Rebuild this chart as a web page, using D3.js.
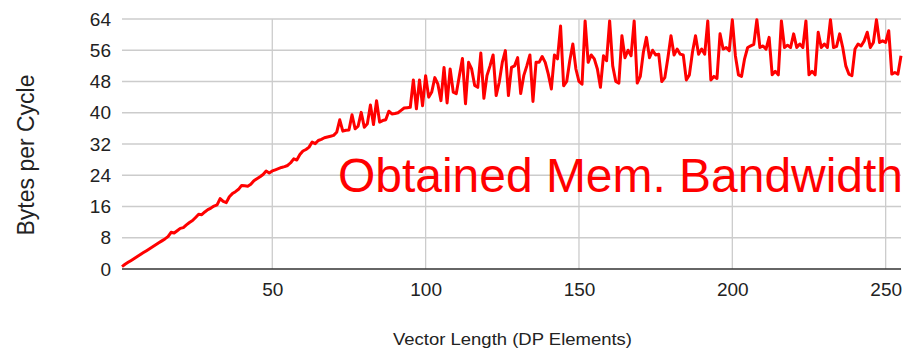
<!DOCTYPE html>
<html>
<head>
<meta charset="utf-8">
<script src="https://cdn.jsdelivr.net/npm/d3@7"></script>
<style>
  html, body { margin: 0; padding: 0; background: #fff; }
  svg { display: block; }
</style>
</head>
<body>
<svg id="chart" width="904" height="349"></svg>
<script>
// ---- data ----
const bandwidth = [
  0.6, 1.2, 1.7, 2.2, 2.7, 3.2, 3.7, 4.2, 4.7, 5.2,
  5.7, 6.2, 6.7, 7.2, 7.7, 8.3, 9.4, 9.2, 9.8, 10.4,
  10.6, 11.3, 11.9, 12.4, 13.2, 14.0, 13.9, 14.6, 15.2, 15.6,
  16.1, 16.4, 18.0, 17.3, 17.0, 18.5, 19.3, 19.8, 20.4, 21.4,
  21.3, 21.2, 21.7, 22.6, 23.1, 23.6, 24.2, 25.1, 24.6, 25.1,
  25.4, 25.7, 26.0, 26.2, 26.5, 27.2, 28.2, 27.9, 29.3, 30.2,
  30.6, 31.2, 32.5, 32.1, 32.9, 33.2, 33.6, 33.8, 34.0, 34.2,
  35.0, 38.2, 35.3, 35.5, 35.6, 39.5, 35.9, 36.6, 40.1, 36.3,
  37.2, 42.0, 37.0, 43.1, 37.6, 38.0, 38.2, 40.4, 39.7, 39.8,
  40.0, 40.6, 41.2, 41.3, 41.4, 48.4, 41.0, 48.4, 41.8, 49.5,
  44.0, 45.3, 49.0, 47.3, 43.1, 51.6, 42.5, 51.2, 45.3, 44.9,
  49.5, 53.9, 42.3, 52.9, 51.2, 47.0, 46.5, 55.3, 43.7, 49.5,
  52.0, 54.8, 44.4, 47.8, 52.9, 55.9, 44.4, 51.6, 52.0, 54.1,
  44.9, 49.5, 52.0, 54.8, 42.9, 52.9, 52.9, 54.4, 52.9, 49.9,
  46.1, 54.8, 53.8, 62.2, 46.9, 48.0, 53.3, 57.6, 51.2, 48.0,
  47.3, 63.5, 52.9, 54.8, 53.8, 51.2, 46.5, 54.6, 53.3, 63.5,
  52.0, 48.0, 47.6, 59.7, 54.1, 56.0, 54.6, 63.5, 47.6, 49.3,
  55.5, 59.3, 54.1, 56.0, 54.8, 55.0, 48.0, 49.0, 54.1, 59.7,
  54.8, 56.3, 55.0, 54.8, 48.4, 49.7, 55.5, 59.7, 55.0, 56.3,
  55.0, 63.5, 48.4, 49.3, 48.8, 60.2, 56.3, 56.7, 55.9, 63.8,
  54.6, 49.7, 49.3, 53.8, 56.7, 57.1, 57.5, 63.8, 56.7, 57.1,
  56.3, 59.3, 49.7, 50.6, 49.7, 63.5, 56.7, 57.3, 56.7, 60.2,
  56.7, 57.6, 56.7, 63.5, 49.7, 50.6, 49.7, 60.6, 56.7, 57.6,
  56.7, 63.8, 56.7, 57.0, 60.2, 56.7, 52.0, 49.9, 49.5, 56.3,
  57.6, 57.1, 58.4, 60.6, 56.7, 58.0, 63.8, 58.0, 58.4, 58.0,
  61.0, 49.9, 50.3, 49.9, 54.6
];
const vectorLength = bandwidth.map((_, i) => i + 1);
const yTicks = [0, 8, 16, 24, 32, 40, 48, 56, 64];
const xTicks = [50, 100, 150, 200, 250];
const xTitle = "Vector Length (DP Elements)";
const yTitle = "Bytes per Cycle";
const annotation = "Obtained Mem. Bandwidth";

// ---- layout ----
const svg = d3.select("#chart");
const plotL = 122, plotR = 901, plotT = 19, plotB = 269;
const font = "'Liberation Sans', Arial, sans-serif";

const x = d3.scaleLinear().domain([1, 255]).range([plotL, plotR]);
const y = d3.scaleLinear().domain([0, 64]).range([plotB, plotT]);

// horizontal grid
svg.append("g")
  .selectAll("line")
  .data(yTicks.filter(d => d !== 0))
  .join("line")
  .attr("x1", plotL).attr("x2", plotR)
  .attr("y1", d => y(d)).attr("y2", d => y(d))
  .attr("stroke", "#cccccc").attr("stroke-width", 1.3);

// vertical grid
svg.append("g")
  .selectAll("line")
  .data(xTicks)
  .join("line")
  .attr("x1", d => x(d)).attr("x2", d => x(d))
  .attr("y1", plotT).attr("y2", plotB)
  .attr("stroke", "#cccccc").attr("stroke-width", 1.3);

// y axis labels
const yAxis = d3.axisLeft(y).tickValues(yTicks).tickSize(0).tickPadding(11).tickFormat(d3.format("d"));
const gy = svg.append("g").attr("transform", `translate(${plotL},0)`).call(yAxis);
gy.select(".domain").remove();
gy.selectAll("text").attr("font-family", font).attr("font-size", 19).attr("fill", "#222");

// x axis labels
const xAxis = d3.axisBottom(x).tickValues(xTicks).tickSize(0).tickPadding(14).tickFormat(d3.format("d"));
const gx = svg.append("g").attr("transform", `translate(0,${plotB})`).call(xAxis);
gx.select(".domain").remove();
gx.selectAll("text").attr("font-family", font).attr("font-size", 19).attr("fill", "#222");

// baseline
svg.append("line")
  .attr("x1", plotL).attr("x2", plotR)
  .attr("y1", y(0)).attr("y2", y(0))
  .attr("stroke", "#333").attr("stroke-width", 1.5);

// line
const line = d3.line().x((d, i) => x(vectorLength[i])).y(d => y(d));
svg.append("path")
  .datum(bandwidth)
  .attr("d", line)
  .attr("fill", "none")
  .attr("stroke", "#ff0000")
  .attr("stroke-width", 3)
  .attr("stroke-linejoin", "round");

// titles
svg.append("text")
  .attr("x", 393).attr("y", 345)
  .attr("textLength", 239).attr("lengthAdjust", "spacingAndGlyphs")
  .attr("font-family", font).attr("font-size", 17).attr("fill", "#222")
  .text(xTitle);

svg.append("text")
  .attr("transform", "translate(34,155) rotate(-90)")
  .attr("text-anchor", "middle")
  .attr("font-family", font).attr("font-size", 23).attr("fill", "#222")
  .text(yTitle);

// annotation
svg.append("text")
  .attr("x", 338).attr("y", 192)
  .attr("textLength", 565).attr("lengthAdjust", "spacingAndGlyphs")
  .attr("font-family", font).attr("font-size", 48).attr("fill", "#ff0000")
  .text(annotation);
</script>
</body>
</html>
